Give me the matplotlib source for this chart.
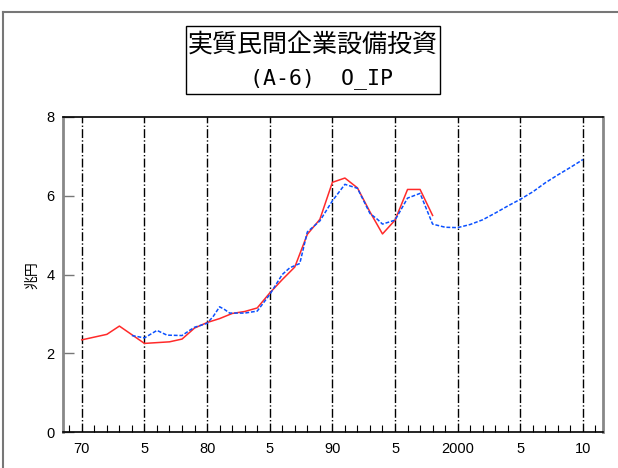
import matplotlib.pyplot as plt
from matplotlib.lines import Line2D
from matplotlib.patches import Rectangle

plt.rcParams['font.family'] = ['Liberation Sans', 'DejaVu Sans']

# 実績 (red)
red_years = [1970, 1972, 1973, 1975, 1977, 1978, 1979, 1980, 1981, 1982, 1983,
             1984, 1985, 1986, 1987, 1988, 1989, 1990, 1991, 1992, 1993, 1994,
             1995, 1996, 1997, 1998]
red_vals = [2.34, 2.48, 2.69, 2.25, 2.29, 2.36, 2.64, 2.78, 2.88, 3.01, 3.06,
            3.15, 3.53, 3.87, 4.19, 5.02, 5.40, 6.34, 6.45, 6.20, 5.59, 5.03,
            5.38, 6.16, 6.16, 5.50]

# モデル (blue dashed)
blue_years = [1974, 1975, 1976, 1976.8, 1978, 1978.6, 1979, 1980, 1980.5, 1981,
              1981.4, 1981.8, 1983, 1984, 1985, 1986, 1986.6, 1987.4, 1988,
              1989, 1990, 1991, 1992, 1993, 1993.6, 1994, 1995, 1996, 1997,
              1998, 1999, 2000, 2001, 2002, 2003, 2004, 2005, 2006, 2007,
              2008, 2009, 2010]
blue_vals = [2.45, 2.39, 2.58, 2.46, 2.45, 2.58, 2.66, 2.76, 2.94, 3.18,
             3.11, 3.02, 3.02, 3.07, 3.49, 4.00, 4.17, 4.28, 5.08,
             5.36, 5.87, 6.29, 6.19, 5.55, 5.40, 5.28, 5.38, 5.94, 6.06,
             5.28, 5.20, 5.19, 5.27, 5.39, 5.56, 5.74, 5.91, 6.10, 6.33,
             6.53, 6.72, 6.92]

major_years = [1970, 1975, 1980, 1985, 1990, 1995, 2000, 2005, 2010]
major_labels = ['70', '5', '80', '5', '90', '5', '2000', '5', '10']

W, H = 618, 468
fig = plt.figure(figsize=(6.18, 4.68), dpi=100)
ax = fig.add_axes([63 / W, 1 - 432 / H, 540 / W, 315 / H])

ax.plot(red_years, red_vals, color='#ff2a2a', lw=1.1)
ax.plot(blue_years, blue_vals, color='#0a50ff', lw=1.1, ls=(0, (2.5, 1.2)))

for yr in major_years:
    ax.axvline(yr, color='black', lw=1.0, ls='-.', zorder=0)

ax.set_xlim(1968.5, 2011.6)
ax.set_ylim(0, 8)
ax.set_xticks(major_years)
ax.set_xticklabels(major_labels, fontsize=10.5)
ax.set_xticks(range(1969, 2012), minor=True)
ax.tick_params(axis='x', which='major', length=0, pad=7)
ax.tick_params(axis='x', which='minor', direction='in', length=5, width=0.8)
ax.set_yticks([0, 2, 4, 6, 8])
ax.tick_params(axis='y', direction='in', length=8, width=1.0, colors='#777777',
               labelcolor='black', labelsize=10.5, pad=6)

ax.spines['left'].set_color('#888888')
ax.spines['left'].set_linewidth(2)
ax.spines['right'].set_color('#888888')
ax.spines['right'].set_linewidth(2)
ax.spines['top'].set_linewidth(1.2)
ax.spines['bottom'].set_linewidth(1.2)

fig.text(32 / W, 1 - 275 / H, '兆円', rotation=90, ha='center', va='center',
         family=['Noto Sans CJK JP'], fontsize=10)

# outer frame
fig.add_artist(Line2D([3 / W, 3 / W], [0, 1 - 12 / H], color='#777777', lw=1.5))
fig.add_artist(Line2D([3 / W, 1], [1 - 12 / H, 1 - 12 / H], color='#777777', lw=1.5))

# title box
fig.add_artist(Rectangle((186 / W, 1 - 94 / H), 254 / W, 68 / H,
                         transform=fig.transFigure, fc='white', ec='black', lw=1))
fig.text(313 / W, 1 - 45 / H, '実質民間企業設備投資', ha='center', va='center',
         family=['Noto Sans CJK JP'], fontsize=18)
fig.text(321 / W, 1 - 79 / H, '(A-6)  O_IP', ha='center', va='center',
         family=['DejaVu Sans Mono'], fontsize=15.5)

fig.savefig('out.png', dpi=100)
